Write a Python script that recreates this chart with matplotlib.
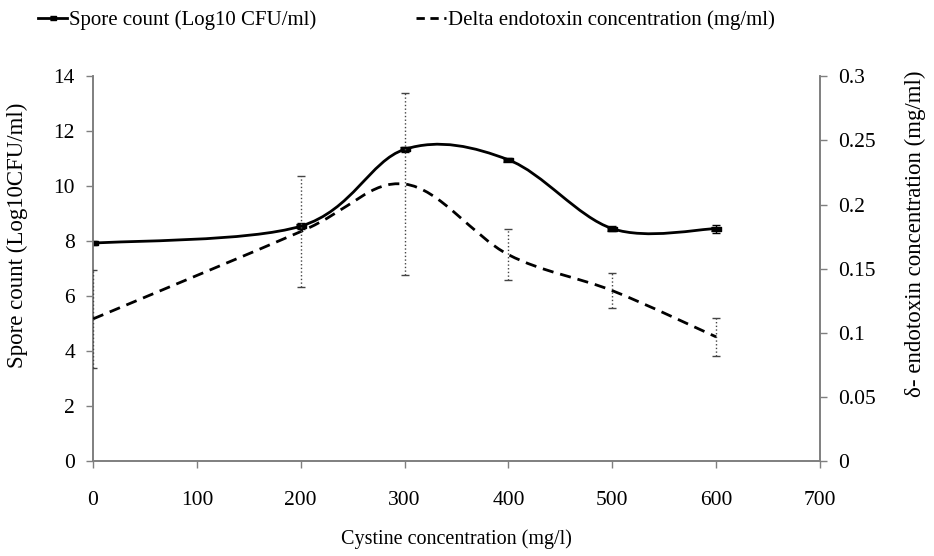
import matplotlib
matplotlib.use("Agg")
import matplotlib.pyplot as plt
import numpy as np
from matplotlib.lines import Line2D
from matplotlib.patches import PathPatch
from matplotlib.path import Path
from matplotlib.ticker import FuncFormatter

# values
cystine = [0, 200, 300, 400, 500, 600]
spore_count = [7.93, 8.55, 11.34, 10.96, 8.46, 8.46]
spore_err = [0.08, 0.1, 0.1, 0.06, 0.08, 0.15]
delta_toxin = [0.111, 0.179, 0.216, 0.161, 0.133, 0.097]
delta_err = [0.038, 0.043, 0.071, 0.020, 0.0135, 0.015]

x_ticks = [0, 100, 200, 300, 400, 500, 600, 700]
left_ticks = [0, 2, 4, 6, 8, 10, 12, 14]
right_ticks = [0, 0.05, 0.1, 0.15, 0.2, 0.25, 0.3]

AXIS_GREY = "#7f7f7f"


def smooth_path(x, y):
    # Excel-style smoothed line: cubic Bezier through the points (Catmull-Rom tangents)
    pts = np.column_stack([x, y]).astype(float)
    n = len(pts)
    verts = [pts[0]]
    codes = [Path.MOVETO]
    for i in range(n - 1):
        p0 = pts[max(i - 1, 0)]
        p1 = pts[i]
        p2 = pts[i + 1]
        p3 = pts[min(i + 2, n - 1)]
        verts += [p1 + (p2 - p0) / 6, p2 - (p3 - p1) / 6, p2]
        codes += [Path.CURVE4] * 3
    return Path(verts, codes)


plt.rcParams["font.family"] = ["Liberation Serif", "DejaVu Serif"]

fig = plt.figure(figsize=(9.34, 5.56), dpi=100)
ax = fig.add_axes([0.0996, 0.17, 0.7784, 0.693])
ax2 = ax.twinx()

# spore count (left axis)
ax.add_patch(PathPatch(smooth_path(cystine, spore_count), fill=False,
                       edgecolor="black", linewidth=2, zorder=3))
ax.errorbar(cystine, spore_count, yerr=spore_err, fmt="none", ecolor="black",
            elinewidth=1, capsize=3, capthick=1, zorder=3)
rect = [(-1, -0.45), (1, -0.45), (1, 0.45), (-1, 0.45)]
ax.plot(cystine, spore_count, ls="none", marker=rect, ms=7, color="black", zorder=4)

# delta endotoxin (right axis)
ax2.add_patch(PathPatch(smooth_path(cystine, delta_toxin), fill=False,
                        edgecolor="black", linewidth=2, linestyle=(0, (4, 2.5)), zorder=3))
eb = ax2.errorbar(cystine, delta_toxin, yerr=delta_err, fmt="none", ecolor="#444444",
                  elinewidth=1, capsize=3, capthick=1, zorder=3)
for line in eb[2]:
    line.set_linestyle(":")

ax.set_xlim(0, 700)
ax.set_ylim(0, 14)
ax2.set_ylim(0, 0.3)
ax.set_xticks(x_ticks)
ax.set_yticks(left_ticks)
ax2.set_yticks(right_ticks)
ax2.yaxis.set_major_formatter(FuncFormatter(lambda v, _: f"{v:g}"))

for a in (ax, ax2):
    a.spines["top"].set_visible(False)
    for s in ("left", "right", "bottom"):
        a.spines[s].set_color(AXIS_GREY)
        a.spines[s].set_linewidth(1.2)
    a.tick_params(direction="out", length=5, width=1, color=AXIS_GREY, labelsize=15.5)
ax.tick_params(axis="x", pad=16)
ax.tick_params(axis="y", pad=8)
ax2.tick_params(axis="y", pad=8)

ax.set_xlabel("Cystine concentration (mg/l)", fontsize=14.5, labelpad=14)
ax.set_ylabel("Spore count (Log10CFU/ml)", fontsize=16.5)
ax2.set_ylabel("δ- endotoxin concentration (mg/ml)", fontsize=16.5)
ax.yaxis.set_label_coords(-0.09, 0.587)
ax2.yaxis.set_label_coords(1.117, 0.592)

handles = [
    Line2D([], [], color="black", lw=2, marker=rect, ms=5),
    Line2D([], [], color="black", lw=2, ls=(0, (3, 2))),
]
fig.legend(handles, ["Spore count (Log10 CFU/ml)", "Delta endotoxin concentration (mg/ml)"],
           loc="upper center", bbox_to_anchor=(0.435, 1.015), ncol=2, frameon=False,
           fontsize=15, handlelength=1.4, handletextpad=0.1, columnspacing=4.8)

fig.savefig("out.png", dpi=100)
